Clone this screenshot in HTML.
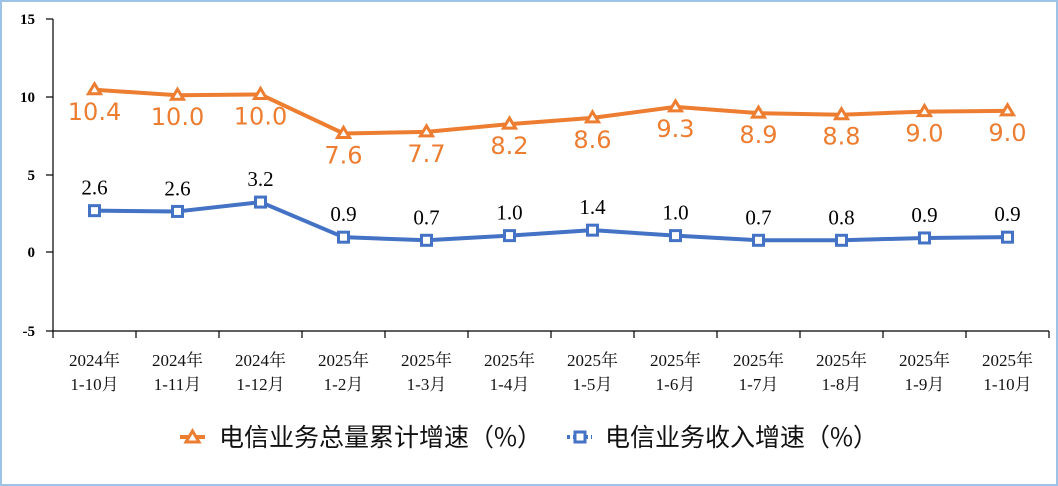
<!DOCTYPE html>
<html><head><meta charset="utf-8"><style>
html,body{margin:0;padding:0;background:#fff}
svg{display:block}
</style></head><body>
<svg width="1058" height="486" xmlns="http://www.w3.org/2000/svg">
<rect x="1" y="1" width="1056" height="484" fill="#fff" stroke="#9dc3e6" stroke-width="2"/>
<g font-family="Liberation Serif, serif" font-size="15" text-anchor="end" fill="#000">
<text x="35" y="24" font-weight="bold">15</text>
<text x="35" y="102" font-weight="bold">10</text>
<text x="35" y="180" font-weight="bold">5</text>
<text x="35" y="257" font-weight="bold">0</text>
<text x="35" y="336" font-weight="bold">-5</text>
</g>
<g stroke="#000" stroke-width="1.2">
<line x1="53" y1="19" x2="53" y2="331"/>
<line x1="53" y1="331" x2="1049" y2="331"/>
<line x1="46" y1="19" x2="53" y2="19"/>
<line x1="46" y1="97" x2="53" y2="97"/>
<line x1="46" y1="175" x2="53" y2="175"/>
<line x1="46" y1="252" x2="53" y2="252"/>
<line x1="46" y1="331" x2="53" y2="331"/>
</g>
<g id="ticks" stroke="#000" stroke-width="1.2"></g>
<g id="xl" font-family="Liberation Serif, 'Noto Serif CJK SC', serif" font-size="17" text-anchor="middle" fill="#111"></g>
<polyline id="po" fill="none" stroke="#ED7D31" stroke-width="4" stroke-linejoin="round"/>
<polyline id="pb" fill="none" stroke="#4472C4" stroke-width="4" stroke-linejoin="round"/>
<g id="mk"></g>
<g id="lo" font-family="DejaVu Sans, sans-serif" font-size="24" text-anchor="middle" fill="#ED7D31"></g>
<g id="lb" font-family="Liberation Serif, serif" font-size="21" text-anchor="middle" fill="#000"></g>
<g font-family="'Noto Sans CJK SC', sans-serif" font-size="25" fill="#111">
<line x1="180" y1="437" x2="205" y2="437" stroke="#ED7D31" stroke-width="4"/>
<polygon points="192.5,431 199,442 186,442" fill="#fff" stroke="#ED7D31" stroke-width="3"/>
<text x="219" y="446">电信业务总量累计增速（%）</text>
<line x1="567" y1="437" x2="592" y2="437" stroke="#4472C4" stroke-width="4" stroke-dasharray="3,3"/>
<rect x="575" y="432" width="10" height="10" fill="#fff" stroke="#4472C4" stroke-width="3"/>
<text x="605" y="446">电信业务收入增速（%）</text>
</g>
</svg>
<script>
const o=[10.4,10.0,10.0,7.6,7.7,8.2,8.6,9.3,8.9,8.8,9.0,9.0];
const op=[10.4,10.05,10.1,7.6,7.7,8.2,8.6,9.3,8.9,8.8,9.0,9.05];
const b=[2.6,2.6,3.2,0.9,0.7,1.0,1.4,1.0,0.7,0.8,0.9,0.9];
const bp=[2.65,2.6,3.2,0.95,0.75,1.05,1.4,1.05,0.75,0.75,0.9,0.95];
const labs=[["2024年","1-10月"],["2024年","1-11月"],["2024年","1-12月"],["2025年","1-2月"],["2025年","1-3月"],["2025年","1-4月"],["2025年","1-5月"],["2025年","1-6月"],["2025年","1-7月"],["2025年","1-8月"],["2025年","1-9月"],["2025年","1-10月"]];
const Y=v=>252-15.6*v, X=i=>94.5+83*i;
const ns="http://www.w3.org/2000/svg";
function el(p,t,a,txt){const e=document.createElementNS(ns,t);for(const k in a)e.setAttribute(k,a[k]);if(txt)e.textContent=txt;document.getElementById(p).appendChild(e);}
for(let i=0;i<=12;i++)el("ticks","line",{x1:53+83*i,y1:331,x2:53+83*i,y2:338});
labs.forEach((l,i)=>{el("xl","text",{x:X(i),y:366},l[0]);el("xl","text",{x:X(i),y:390},l[1]);});
document.getElementById("po").setAttribute("points",op.map((v,i)=>X(i)+","+Y(v)).join(" "));
document.getElementById("pb").setAttribute("points",bp.map((v,i)=>X(i)+","+Y(v)).join(" "));
op.forEach((v,i)=>{const x=X(i),y=Y(v);el("mk","polygon",{points:`${x},${y-6} ${x+6},${y+4} ${x-6},${y+4}`,fill:"#fff",stroke:"#ED7D31","stroke-width":3});el("lo","text",{x:x,y:y+30},o[i].toFixed(1));});
bp.forEach((v,i)=>{const x=X(i),y=Y(v);el("mk","rect",{x:x-5,y:y-5,width:10,height:10,fill:"#fff",stroke:"#4472C4","stroke-width":3});el("lb","text",{x:x,y:y-16},b[i].toFixed(1));});
</script>
</body></html>
